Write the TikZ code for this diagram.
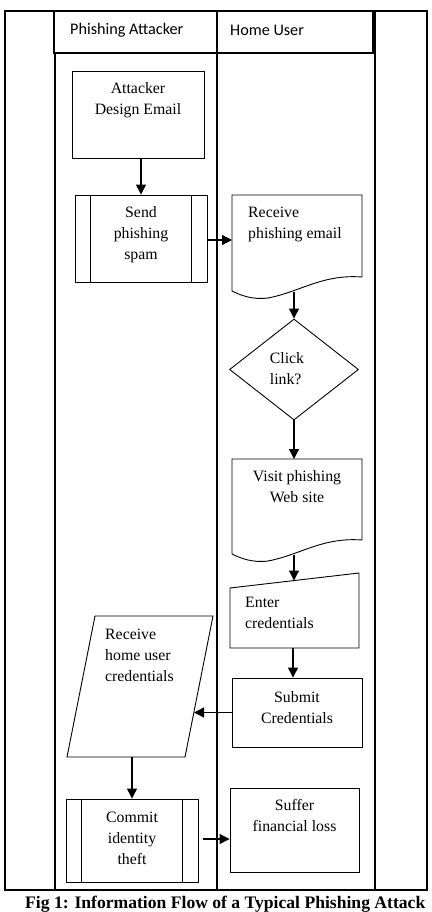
\documentclass[tikz,border=0pt]{standalone}
\usepackage{fontspec}
\setmainfont{Liberation Serif}
\newfontfamily\lanefont{Carlito}
\usetikzlibrary{positioning,shapes.geometric,arrows.meta}
\tikzset{
	boxline/.style={draw, line width=0.9pt, inner sep=0pt},
	txt/.style={inner sep=0pt, font=\fontsize{15.8}{21}\selectfont, align=center},
	txtl/.style={txt, align=left},
	flow/.style={-{Triangle[length=10pt,width=10pt]}, line width=1.2pt},
	lane/.style={line width=1.1pt},
	lanehdr/.style={inner sep=0pt, font=\lanefont\fontsize{16.2}{18}\selectfont}
}
\begin{document}
\begin{tikzpicture}[x=1pt,y=-1pt]
			\useasboundingbox (0,0) rectangle (431,912);
			\draw [lane] (5,11) rectangle (427,890);
			\draw [lane] (54,11) rectangle (373,53);
			\draw [lane] (55,53) -- (55,890);
			\draw [lane] (217,11) -- (217,890);
			\draw [lane] (375,11) -- (375,890);
			\node[lanehdr, anchor=west] (hdratt) at (70,30) {Phishing Attacker};
			\node[lanehdr, anchor=west] (hdrusr) at (230,30) {Home User};
			\coordinate (recvin) at (232,240);
			\coordinate (recvbot) at (294,292);
			\coordinate (visittop) at (295,459);
			\coordinate (visitbot) at (294,555);
			\coordinate (entertop) at (294,580.5);
			\coordinate (enterbot) at (293,648);
			\coordinate (pararight) at (194,712.5);
			\coordinate (parabot) at (132,757);
			\coordinate (commitout) at (203,839);
			\node[boxline, minimum width=132, minimum height=87] (design) at (138,114.5) {};
			\node[boxline, minimum width=132, minimum height=87] (send) at (141,238.5) {};
			\draw [line width=0.9pt] ([xshift=16pt]send.north west) -- ([xshift=16pt]send.south west);
			\draw [line width=0.9pt] ([xshift=-16pt]send.north east) -- ([xshift=-16pt]send.south east);
			\draw [boxline] (232,291) -- (232,195) -- (362,195) -- (362,277) .. controls (322,274) and (300,292) .. (268,298) .. controls (252,300) and (240,295) .. (232,291);
			\node[boxline, diamond, aspect=1.28, minimum width=129, minimum height=101] (click) at (294,369.5) {};
			\draw [boxline, shift={(0,263)}] (232,291) -- (232,196) -- (362,196) -- (362,277) .. controls (322,274) and (300,292) .. (268,298) .. controls (252,300) and (240,295) .. (232,291);
			\draw [boxline] (230,588) -- (359,573) -- (359,648) -- (230,648) -- cycle;
			\node[boxline, minimum width=130, minimum height=69] (submit) at (297,712.5) {};
			\draw [boxline] (95,616) -- (213,616) -- (185,757) -- (67,757) -- cycle;
			\node[boxline, minimum width=132, minimum height=83] (commit) at (132,840.5) {};
			\draw [line width=0.9pt] ([xshift=16pt]commit.north west) -- ([xshift=16pt]commit.south west);
			\draw [line width=0.9pt] ([xshift=-16pt]commit.north east) -- ([xshift=-16pt]commit.south east);
			\node[boxline, minimum width=129, minimum height=84] (suffer) at (294.5,830) {};
			\node[txt, below=12pt of design.north] (designtxt) {Attacker\\Design Email};
			\node[txt, below=12pt of send.north] (sendtxt) {Send\\phishing\\spam};
			\node[txtl, anchor=north west] (recvtxt) at (248,207) {Receive\\phishing email};
			\node[txtl] (clicktxt) at (287,369) {Click\\link?};
			\node[txt, anchor=north] (visittxt) at (297,470) {Visit phishing\\Web site};
			\node[txtl, anchor=north west] (entertxt) at (245,597) {Enter\\credentials};
			\node[txt, below=14pt of submit.north] (submittxt) {Submit\\Credentials};
			\node[txtl, anchor=north west] (paratxt) at (105,629) {Receive\\home user\\credentials};
			\node[txt, below=13pt of commit.north] (committxt) {Commit\\identity\\theft};
			\node[txt, below=12pt of suffer.north] (suffertxt) {Suffer\\financial loss};
			\draw[flow] (send.north |- design.south) -- (send.north);
			\draw[flow] (send.east |- recvin) -- (recvin);
			\draw[flow] (recvbot) -- (click.north);
			\draw[flow] (click.south) -- (click.south |- visittop);
			\draw[flow] (visitbot) -- (entertop);
			\draw[flow] (enterbot) -- (enterbot |- submit.north);
			\draw[flow] (submit.west) -- (pararight);
			\draw[flow] (parabot) -- (parabot |- commit.north);
			\draw[flow] (commitout) -- (commitout -| suffer.west);
			\node[anchor=base west, inner sep=0pt, font=\bfseries\fontsize{17.6}{20}\selectfont] (caption) at (25,908) {Fig 1: Information Flow of a Typical Phishing Attack};
		\end{tikzpicture}
\end{document}
